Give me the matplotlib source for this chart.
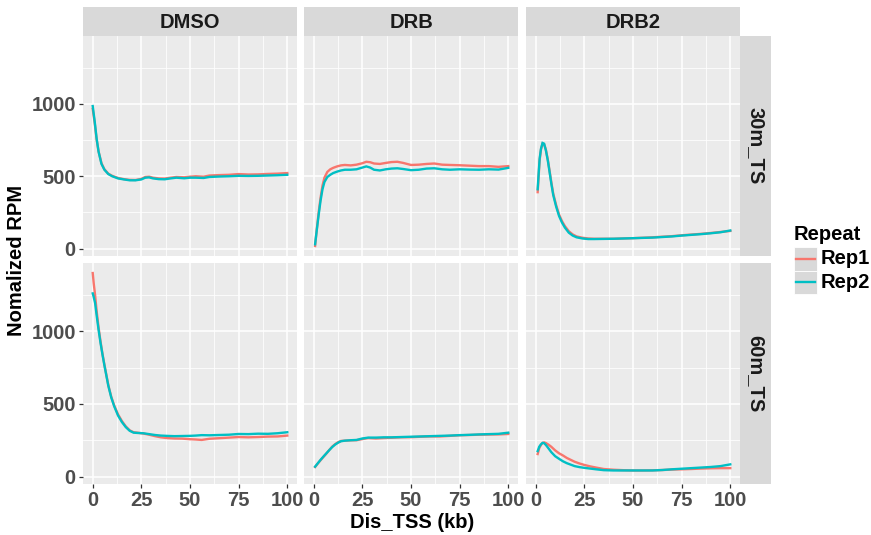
import numpy as np
import matplotlib
matplotlib.use("Agg")
import matplotlib.pyplot as plt
from matplotlib.patches import Rectangle
from matplotlib.lines import Line2D
import matplotlib.ticker as ticker

# ── Data ───────────────────────────────────────────────────────────────────
treatments = ["DMSO", "DRB", "DRB2"]
timepoints = ["30m_TS", "60m_TS"]
repeats = ["Rep1", "Rep2"]

# 30m_TS
dmso_30_x = [0, 1, 2, 3, 4.5, 6, 8, 10, 13, 16, 19, 22, 25, 27, 29, 31, 34, 37,
             40, 43, 47, 50, 53, 57, 60, 65, 70, 75, 80, 85, 90, 95, 100]
dmso_30_rep1 = [965, 870, 755, 672, 590, 548, 518, 503, 488, 480, 475, 474, 482,
                495, 497, 490, 485, 484, 490, 495, 493, 497, 500, 497, 505, 508,
                510, 515, 512, 513, 516, 518, 522]
dmso_30_rep2 = [985, 880, 760, 670, 585, 545, 515, 500, 485, 478, 472, 472, 478,
                490, 492, 485, 480, 479, 485, 490, 486, 490, 490, 488, 495, 498,
                500, 503, 502, 503, 505, 507, 510]

drb_30_x = [0.7, 1.5, 2.5, 3.5, 4.5, 5.5, 7, 8.5, 10, 12, 14, 16, 19, 22, 25, 27,
            29, 31, 34, 37, 40, 43, 46, 50, 54, 58, 62, 66, 70, 75, 80, 85, 90,
            95, 100]
drb_30_rep1 = [18, 125, 245, 350, 435, 490, 530, 548, 558, 568, 575, 578, 575,
               580, 590, 600, 597, 588, 585, 592, 598, 600, 592, 578, 580, 585,
               588, 580, 578, 576, 573, 570, 570, 565, 570]
drb_30_rep2 = [30, 120, 230, 330, 410, 460, 495, 510, 522, 532, 540, 545, 545,
               548, 560, 568, 560, 545, 540, 548, 553, 555, 550, 542, 545, 553,
               555, 548, 545, 548, 546, 545, 548, 546, 558]

drb2_30_x = [1, 1.5, 2, 2.7, 3.5, 4.3, 5.2, 6.2, 7, 8, 9, 10.5, 12, 13.5, 15, 17,
             19, 21, 24, 27, 30, 35, 40, 45, 50, 55, 60, 65, 70, 75, 80, 85, 90,
             95, 100]
drb2_30_rep1 = [390, 500, 610, 685, 725, 722, 685, 615, 548, 460, 380, 300, 235,
                190, 155, 120, 98, 84, 75, 70, 68, 68, 68, 70, 72, 75, 78, 82,
                86, 92, 97, 102, 108, 115, 122]
drb2_30_rep2 = [410, 520, 620, 690, 730, 725, 680, 610, 540, 450, 370, 290, 225,
                180, 145, 110, 90, 78, 70, 66, 66, 67, 68, 70, 72, 74, 76, 80,
                84, 90, 95, 100, 106, 113, 125]

# 60m_TS
dmso_60_x = [0, 0.5, 1.2, 2, 3, 4, 5, 6, 7, 8, 9.5, 11, 13, 15, 17, 19, 21, 23,
             26, 29, 32, 35, 38, 42, 46, 50, 53, 56, 60, 65, 70, 75, 80, 85, 90,
             95, 100]
dmso_60_rep1 = [1400, 1330, 1250, 1140, 1025, 930, 845, 770, 700, 630, 550, 490,
                428, 382, 345, 318, 305, 302, 296, 288, 278, 270, 265, 262, 261,
                257, 255, 252, 260, 264, 268, 272, 270, 272, 275, 276, 282]
dmso_60_rep2 = [1260, 1235, 1195, 1110, 1010, 920, 840, 765, 695, 625, 545, 485,
                420, 375, 340, 315, 302, 300, 298, 292, 286, 282, 280, 278, 279,
                280, 282, 285, 284, 286, 288, 293, 292, 295, 294, 298, 305]

drb_60_x = [0.7, 2, 3.5, 5, 6.5, 8, 9.5, 11, 12.5, 14, 16, 19, 22, 25, 28, 32,
            36, 40, 45, 50, 55, 60, 65, 70, 75, 80, 85, 90, 95, 100]
drb_60_rep1 = [66, 88, 112, 135, 158, 183, 206, 223, 236, 245, 247, 249, 250,
               258, 265, 262, 265, 267, 270, 271, 274, 276, 276, 280, 284, 286,
               288, 289, 290, 293]
drb_60_rep2 = [68, 90, 115, 138, 160, 182, 203, 220, 233, 243, 247, 250, 252,
               262, 268, 268, 270, 270, 272, 274, 276, 278, 280, 282, 285, 287,
               290, 292, 294, 302]

drb2_60_x = [1, 1.8, 2.7, 3.5, 4.3, 5.3, 6.5, 8, 10, 12, 14, 16, 18, 20, 22.5,
             25, 28, 31, 35, 40, 45, 50, 55, 60, 65, 70, 75, 80, 85, 90, 95, 100]
drb2_60_rep1 = [155, 195, 218, 230, 235, 230, 220, 205, 180, 160, 145, 128, 115,
                102, 90, 80, 70, 62, 52, 47, 44, 42, 42, 43, 45, 48, 50, 52, 55,
                57, 58, 58]
drb2_60_rep2 = [175, 205, 222, 232, 230, 216, 195, 168, 140, 122, 105, 92, 82,
                72, 65, 60, 55, 50, 44, 42, 42, 42, 42, 42, 45, 50, 54, 58, 62,
                66, 72, 84]

x_ticks = [0, 25, 50, 75, 100]
y_ticks = [0, 500, 1000]

panels = {
    ("30m_TS", "DMSO"): (dmso_30_x, dmso_30_rep1, dmso_30_rep2),
    ("30m_TS", "DRB"): (drb_30_x, drb_30_rep1, drb_30_rep2),
    ("30m_TS", "DRB2"): (drb2_30_x, drb2_30_rep1, drb2_30_rep2),
    ("60m_TS", "DMSO"): (dmso_60_x, dmso_60_rep1, dmso_60_rep2),
    ("60m_TS", "DRB"): (drb_60_x, drb_60_rep1, drb_60_rep2),
    ("60m_TS", "DRB2"): (drb2_60_x, drb2_60_rep1, drb2_60_rep2),
}

# ── Style (ggplot2 theme_grey look) ────────────────────────────────────────
REP_CLR = {"Rep1": "#F8766D", "Rep2": "#00BFC4"}
PANEL_BG = "#EBEBEB"
STRIP_BG = "#D9D9D9"
TICK_CLR = "#4D4D4D"
FONT = "Liberation Sans"
FS = 14.5

plt.rcParams["font.family"] = FONT

W, H = 871, 535
fig = plt.figure(figsize=(W / 100, H / 100), dpi=100)


def rect(x0, y0, x1, y1):
    """pixel box (top-left origin) -> figure fraction rect"""
    return [x0 / W, 1 - y1 / H, (x1 - x0) / W, (y1 - y0) / H]


col_x = [(83, 297), (304, 518), (526, 740)]
row_y = [(36, 256), (263, 484)]

# shared fixed scales with ggplot-style 5% expansion
all_y = np.concatenate([np.r_[v[1], v[2]] for v in panels.values()])
ypad = 0.05 * (all_y.max() - all_y.min())
ylim = (all_y.min() - ypad, all_y.max() + ypad)
xlim = (0 - 5, 100 + 5)

for r, tp in enumerate(timepoints):
    for c, tr in enumerate(treatments):
        ax = fig.add_axes(rect(col_x[c][0], row_y[r][0], col_x[c][1], row_y[r][1]))
        ax.set_facecolor(PANEL_BG)
        for s in ax.spines.values():
            s.set_visible(False)
        x, rep1, rep2 = panels[(tp, tr)]
        ax.plot(x, rep1, color=REP_CLR["Rep1"], lw=1.7, solid_joinstyle="miter")
        ax.plot(x, rep2, color=REP_CLR["Rep2"], lw=1.7, solid_joinstyle="miter")
        ax.set_xlim(xlim)
        ax.set_ylim(ylim)
        ax.set_xticks(x_ticks)
        ax.set_yticks(y_ticks)
        ax.xaxis.set_minor_locator(ticker.MultipleLocator(12.5))
        ax.yaxis.set_minor_locator(ticker.FixedLocator([250, 750, 1250]))
        ax.grid(True, which="major", color="white", lw=1.1)
        ax.grid(True, which="minor", color="white", lw=0.55)
        ax.set_axisbelow(True)
        ax.tick_params(which="minor", length=0)
        ax.tick_params(which="major", length=3.2, width=0.9, color="#333333",
                       labelsize=FS, labelcolor=TICK_CLR, pad=2)
        for lab in ax.get_xticklabels() + ax.get_yticklabels():
            lab.set_fontweight("bold")
        if c != 0:
            ax.tick_params(axis="y", length=0, labelleft=False)
        if r != len(timepoints) - 1:
            ax.tick_params(axis="x", length=0, labelbottom=False)

        # top strips
        if r == 0:
            sax = fig.add_axes(rect(col_x[c][0], 7, col_x[c][1], 36))
            sax.set_facecolor(STRIP_BG)
            sax.set_xticks([])
            sax.set_yticks([])
            for s in sax.spines.values():
                s.set_visible(False)
            sax.text(0.5, 0.48, tr, ha="center", va="center", fontsize=FS,
                     fontweight="bold", color="#1A1A1A", transform=sax.transAxes)

    # right strips
    sax = fig.add_axes(rect(740, row_y[r][0], 771, row_y[r][1]))
    sax.set_facecolor(STRIP_BG)
    sax.set_xticks([])
    sax.set_yticks([])
    for s in sax.spines.values():
        s.set_visible(False)
    sax.text(0.5, 0.5, tp, ha="center", va="center", fontsize=FS,
             fontweight="bold", color="#1A1A1A", rotation=-90,
             transform=sax.transAxes)

# ── Axis titles ─────────────────────────────────────────────────────────────
fig.text(412 / W, 1 - 522 / H, "Dis_TSS (kb)", ha="center", va="center",
         fontsize=FS, fontweight="bold", color="black")
fig.text(17 / W, 1 - 260 / H, "Nomalized RPM", ha="center", va="center",
         rotation=90, fontsize=FS, fontweight="bold", color="black")

# ── Legend (drawn by hand, ggplot style) ────────────────────────────────────
fig.text(794 / W, 1 - 234 / H, "Repeat", ha="left", va="center",
         fontsize=FS, fontweight="bold", color="black")
key_h = 23.5
for i, rep in enumerate(repeats):
    ky0 = 247 + i * key_h
    fig.patches.append(Rectangle((794 / W, 1 - (ky0 + key_h) / H), 23 / W,
                                 key_h / H, transform=fig.transFigure,
                                 facecolor=STRIP_BG, edgecolor="white", lw=0.6))
    yc = 1 - (ky0 + key_h / 2) / H
    fig.lines.append(Line2D([796 / W, 815 / W], [yc, yc], transform=fig.transFigure,
                            color=REP_CLR[rep], lw=1.7))
    fig.text(821 / W, yc, rep, ha="left", va="center", fontsize=FS,
             fontweight="bold", color="black")

fig.savefig("out.png", dpi=100)
